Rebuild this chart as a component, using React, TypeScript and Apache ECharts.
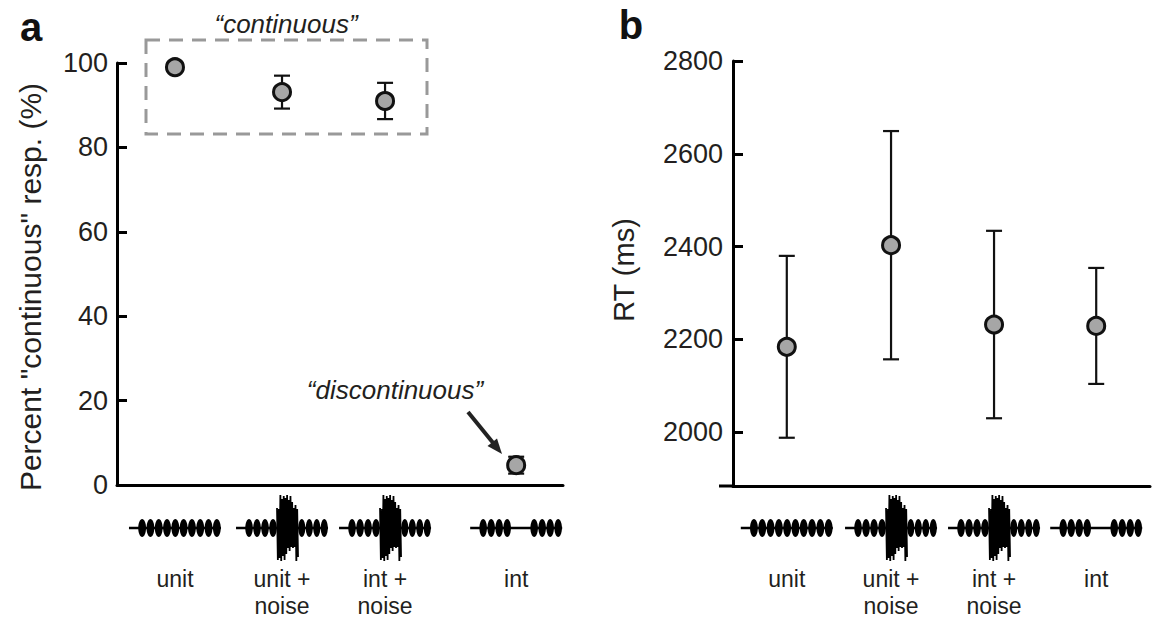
import React, { useEffect, useRef } from 'react';
import * as echarts from 'echarts';

// ---------- data ----------
const CATEGORIES = ['unit', 'unit +\nnoise', 'int +\nnoise', 'int'];
const ICON_KINDS = ['unit', 'noise', 'noise', 'int'];
// horizontal placement of the four conditions on a 0-100 axis
const CATEGORY_POS_A = [13.0, 37.0, 60.1, 89.5];
const CATEGORY_POS_B = [12.9, 37.9, 62.6, 87.1];
// panel a: percent "continuous" responses
const PCT_MEAN = [99.0, 93.1, 91.0, 4.7];
const PCT_ERR = [0.6, 3.9, 4.3, 2.0];
// panel b: reaction time (ms)
const RT_MEAN = [2184, 2403, 2232, 2229];
const RT_ERR = [196, 246, 202, 125];
const PCT_TICKS = [0, 20, 40, 60, 80, 100];
const RT_TICKS = [2000, 2200, 2400, 2600, 2800];
// fixed decorative amplitudes for the noise burst in the stimulus icons
const NOISE_AMPS = [20, 31, 17, 27, 33, 22, 29, 18, 32, 25, 30, 19, 33, 24, 28, 21, 32, 18, 26, 31, 20, 29, 23, 33, 19, 27];

const FONT = "'Liberation Sans', Arial, Helvetica, sans-serif";
const INK = '#231f20';

function errorSeries(idx: number, pos: number[], mean: number[], err: number[]) {
  return {
    type: 'custom',
    xAxisIndex: idx,
    yAxisIndex: idx,
    silent: true,
    z: 2,
    data: pos.map((p, i) => [p, mean[i] - err[i], mean[i] + err[i]]),
    renderItem: (_params: any, api: any) => {
      const lo = api.coord([api.value(0), api.value(1)]);
      const hi = api.coord([api.value(0), api.value(2)]);
      const hw = 8;
      const style = { stroke: '#111', lineWidth: 2.2 };
      return {
        type: 'group',
        children: [
          { type: 'line', shape: { x1: lo[0], y1: lo[1], x2: hi[0], y2: hi[1] }, style },
          { type: 'line', shape: { x1: lo[0] - hw, y1: lo[1], x2: lo[0] + hw, y2: lo[1] }, style },
          { type: 'line', shape: { x1: hi[0] - hw, y1: hi[1], x2: hi[0] + hw, y2: hi[1] }, style },
        ],
      };
    },
  };
}

function pointSeries(idx: number, pos: number[], mean: number[]) {
  return {
    type: 'scatter',
    xAxisIndex: idx,
    yAxisIndex: idx,
    z: 3,
    symbol: 'circle',
    symbolSize: 17,
    itemStyle: { color: '#a6a6a6', borderColor: '#111', borderWidth: 3, opacity: 1 },
    data: pos.map((p, i) => [p, mean[i]]),
  };
}

function lobes(start: number, count: number, step: number, cy: number): any[] {
  const out: any[] = [];
  for (let i = 0; i < count; i++) {
    out.push({
      type: 'ellipse',
      shape: { cx: start + (i + 0.5) * step, cy, rx: step * 0.47, ry: 9 },
      style: { fill: '#000' },
    });
  }
  return out;
}

function icon(cx: number, cy: number, kind: string): any[] {
  const L = cx - 46;
  const els: any[] = [
    { type: 'line', shape: { x1: L, y1: cy, x2: L + 92, y2: cy }, style: { stroke: '#000', lineWidth: 2.5 } },
  ];
  if (kind === 'unit') {
    els.push(...lobes(L + 9, 10, 8.3, cy));
  } else if (kind === 'int') {
    els.push(...lobes(L + 9, 4, 8, cy));
    els.push(...lobes(L + 60, 4, 8, cy));
  } else {
    els.push(...lobes(L + 9, 4, 8, cy));
    els.push(...lobes(L + 62, 4, 7.5, cy));
    els.push({ type: 'rect', shape: { x: L + 42, y: cy - 19, width: 19, height: 38 }, style: { fill: '#000' } });
    const pts: number[][] = [];
    const n = NOISE_AMPS.length;
    for (let k = 0; k < n; k++) {
      const x = L + 41 + (k * 21) / (n - 1);
      const a = k % 2 === 0 ? -NOISE_AMPS[k] : NOISE_AMPS[(k + 7) % n];
      pts.push([x, cy + a]);
    }
    els.push({ type: 'polyline', shape: { points: pts }, style: { stroke: '#000', lineWidth: 1.8, fill: null } });
  }
  return els;
}

function text(x: number, y: number, str: string, opts: any = {}): any {
  return {
    type: 'text',
    x,
    y,
    rotation: opts.rotation || 0,
    z: 10,
    style: {
      text: str,
      x: 0,
      y: 0,
      fill: opts.fill || INK,
      fontSize: opts.fontSize || 24,
      fontFamily: FONT,
      fontStyle: opts.fontStyle || 'normal',
      fontWeight: opts.fontWeight || 'normal',
      align: opts.align || 'center',
      verticalAlign: opts.verticalAlign || 'middle',
      textAlign: opts.align || 'center',
      textVerticalAlign: opts.verticalAlign || 'middle',
      lineHeight: opts.lineHeight,
    },
  };
}

export default function App() {
  const ref = useRef<HTMLDivElement>(null);

  useEffect(() => {
    document.body.style.margin = '0';
    document.body.style.overflow = 'hidden';
    const chart = echarts.init(ref.current!, null, { renderer: 'svg' });

    const yLabelStyle = { color: INK, fontSize: 27, fontFamily: FONT, margin: 9, formatter: (v: number) => String(v) };
    const axisLine = { show: true, lineStyle: { color: '#000', width: 3 } };

    const option: any = {
      animation: false,
      backgroundColor: '#fff',
      grid: [
        { left: 117, top: 63, width: 446, height: 422 },
        { left: 733, top: 61, width: 417, height: 425 },
      ],
      xAxis: [
        { gridIndex: 0, type: 'value', min: 0, max: 100, axisLine: { ...axisLine, onZero: false }, axisTick: { show: false }, axisLabel: { show: false }, splitLine: { show: false } },
        { gridIndex: 1, type: 'value', min: 0, max: 100, axisLine: { ...axisLine, onZero: false }, axisTick: { show: false }, axisLabel: { show: false }, splitLine: { show: false } },
      ],
      yAxis: [
        {
          gridIndex: 0, type: 'value', min: PCT_TICKS[0], max: PCT_TICKS[PCT_TICKS.length - 1], interval: 20,
          axisLine, splitLine: { show: false },
          axisTick: { show: true, inside: true, length: 10, lineStyle: { color: '#000', width: 3 } },
          axisLabel: yLabelStyle,
        },
        {
          gridIndex: 1, type: 'value', min: 1884, max: RT_TICKS[RT_TICKS.length - 1],
          axisLine, splitLine: { show: false },
          axisTick: { show: true, inside: true, length: 10, customValues: RT_TICKS, lineStyle: { color: '#000', width: 3 } },
          axisLabel: { ...yLabelStyle, customValues: RT_TICKS, margin: 10 },
        },
      ],
      series: [
        errorSeries(0, CATEGORY_POS_A, PCT_MEAN, PCT_ERR),
        pointSeries(0, CATEGORY_POS_A, PCT_MEAN),
        errorSeries(1, CATEGORY_POS_B, RT_MEAN, RT_ERR),
        pointSeries(1, CATEGORY_POS_B, RT_MEAN),
      ],
    };
    chart.setOption(option);

    const g: any[] = [];
    // panel letters
    g.push(text(31, 27, 'a', { fontSize: 40, fontWeight: 'bold', fill: '#111' }));
    g.push(text(631, 25, 'b', { fontSize: 40, fontWeight: 'bold', fill: '#111' }));
    // axis names
    g.push(text(30, 287, 'Percent "continuous" resp. (%)', { fontSize: 30, rotation: Math.PI / 2 }));
    g.push(text(624, 270, 'RT (ms)', { fontSize: 29, rotation: Math.PI / 2 }));
    // annotations
    g.push({
      type: 'rect', z: 1, shape: { x: 146, y: 40, width: 281, height: 94 },
      style: { fill: null, stroke: '#999', lineWidth: 3, lineDash: [14, 9] },
    });
    g.push(text(286, 24, '\u201Ccontinuous\u201D', { fontSize: 26, fontStyle: 'italic' }));
    g.push(text(395, 390, '\u201Cdiscontinuous\u201D', { fontSize: 26, fontStyle: 'italic' }));
    g.push({ type: 'line', shape: { x1: 468, y1: 412, x2: 494, y2: 444 }, style: { stroke: '#222', lineWidth: 4 } });
    g.push({ type: 'polygon', shape: { points: [[502, 454], [487.5, 446], [497, 438.4]] }, style: { fill: '#222' } });
    // extension of panel b's baseline to the left of its axis
    g.push({ type: 'line', shape: { x1: 719, y1: 486, x2: 733, y2: 486 }, style: { stroke: '#000', lineWidth: 3 } });

    // stimulus icons and category labels
    const panels = [
      { idx: 0, pos: CATEGORY_POS_A, base: 0 },
      { idx: 1, pos: CATEGORY_POS_B, base: 2000 },
    ];
    panels.forEach(({ idx, pos, base }) => {
      pos.forEach((p, i) => {
        const px = chart.convertToPixel({ gridIndex: idx }, [p, base])[0];
        g.push(...icon(px, 528, ICON_KINDS[i]));
        g.push(text(px, 565, CATEGORIES[i], { fontSize: 23, lineHeight: 27, verticalAlign: 'top' }));
      });
    });

    chart.setOption({ graphic: g });

    return () => chart.dispose();
  }, []);

  return <div ref={ref} style={{ width: 1156, height: 619 }} />;
}
